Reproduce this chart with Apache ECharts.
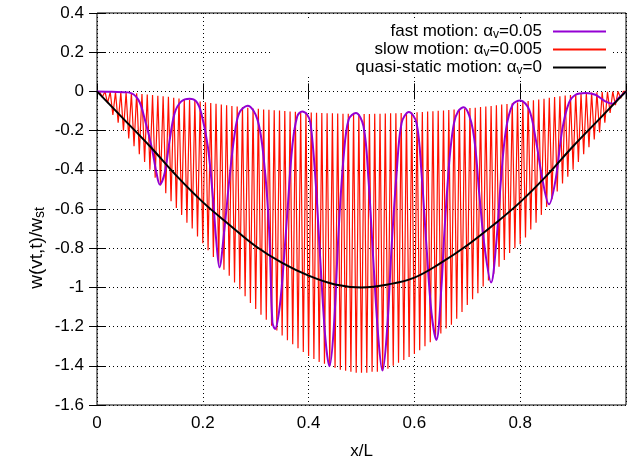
<!DOCTYPE html>
<html><head><meta charset="utf-8">
<script src="https://cdn.jsdelivr.net/npm/echarts@6.0.0/dist/echarts.min.js"></script>
<style>html,body{margin:0;padding:0;background:#fff}#c{width:629px;height:465px}</style>
</head><body><div id="c"></div>
<script>
// ---- data ----
const xTickValues = [0, 0.2, 0.4, 0.6, 0.8];
const yTickValues = [0.4, 0.2, 0, -0.2, -0.4, -0.6, -0.8, -1, -1.2, -1.4, -1.6];

const seriesNames = ['fast motion: α{s|v}=0.05', 'slow motion: α{s|v}=0.005', 'quasi-static motion: α{s|v}=0'];
const xTitle = 'x/L';
const yTitle = '{n|w(vt,t)/w}{s|st}';

// quasi-static motion (alpha_v = 0)
const staticX = [0, 0.05, 0.1, 0.15, 0.2, 0.25, 0.3, 0.35, 0.4, 0.45, 0.5, 0.55, 0.6, 0.65, 0.7, 0.75, 0.8, 0.85, 0.9, 0.95, 1];
const staticY = [0, -0.14, -0.28, -0.43, -0.565, -0.68, -0.79, -0.875, -0.94, -0.985, -1.0, -0.985, -0.95, -0.875, -0.785, -0.68, -0.565, -0.43, -0.28, -0.14, 0];

// fast motion (alpha_v = 0.05)
const fastX = [0, 0.028, 0.059, 0.078, 0.0905, 0.103, 0.1124, 0.1187, 0.1281, 0.1375, 0.1469, 0.1594, 0.175, 0.1876, 0.197, 0.2095, 0.2189, 0.2252, 0.2314, 0.2408, 0.2502, 0.2596, 0.269, 0.2847, 0.3034, 0.316, 0.3253, 0.3316, 0.3366, 0.344, 0.3504, 0.3598, 0.3692, 0.3786, 0.388, 0.3974, 0.4036, 0.413, 0.4224, 0.4318, 0.4394, 0.4475, 0.4569, 0.4663, 0.4757, 0.4894, 0.5038, 0.5132, 0.5226, 0.532, 0.5395, 0.5476, 0.557, 0.5664, 0.5758, 0.5896, 0.604, 0.6134, 0.6228, 0.6322, 0.6416, 0.651, 0.656, 0.662, 0.668, 0.675, 0.683, 0.693, 0.7105, 0.723, 0.7324, 0.745, 0.7543, 0.7637, 0.7731, 0.7856, 0.80, 0.8169, 0.8295, 0.842, 0.8545, 0.867, 0.8795, 0.8921, 0.9046, 0.9234, 0.9422, 0.9609, 0.9747, 0.986, 1.0];
const fastY = [0, -0.002, -0.005, -0.042, -0.144, -0.28, -0.415, -0.475, -0.415, -0.246, -0.11, -0.051, -0.037, -0.051, -0.11, -0.28, -0.534, -0.754, -0.898, -0.703, -0.449, -0.229, -0.11, -0.073, -0.144, -0.364, -0.703, -1.178, -1.212, -1.127, -0.958, -0.619, -0.28, -0.127, -0.102, -0.119, -0.161, -0.449, -0.873, -1.263, -1.402, -1.212, -0.703, -0.331, -0.144, -0.11, -0.178, -0.449, -0.873, -1.263, -1.424, -1.246, -0.788, -0.415, -0.161, -0.105, -0.161, -0.415, -0.788, -1.127, -1.268, -1.0, -0.75, -0.5, -0.3, -0.16, -0.1, -0.081, -0.195, -0.534, -0.788, -0.975, -0.788, -0.449, -0.195, -0.068, -0.046, -0.093, -0.246, -0.449, -0.576, -0.449, -0.195, -0.059, -0.017, -0.008, -0.017, -0.051, -0.063, -0.034, 0];

// slow motion (alpha_v = 0.005): one crest and one trough per oscillation, oscillation length in x
const slowStep = 0.01;
const slowCrests = [-0.002, 0.0, -0.003, -0.004, -0.005, -0.006, -0.008, -0.01, -0.013, -0.016,
  -0.019, -0.022, -0.025, -0.028, -0.032, -0.036, -0.04, -0.043, -0.047, -0.051,
  -0.055, -0.059, -0.063, -0.067, -0.071, -0.074, -0.077, -0.081, -0.084, -0.087,
  -0.089, -0.092, -0.094, -0.096, -0.098, -0.1, -0.102, -0.104, -0.105, -0.107,
  -0.108, -0.109, -0.11, -0.111, -0.112, -0.113, -0.114, -0.114, -0.115, -0.115,
  -0.115, -0.115, -0.114, -0.114, -0.113, -0.112, -0.111, -0.11, -0.109, -0.108,
  -0.106, -0.105, -0.103, -0.101, -0.099, -0.097, -0.095, -0.093, -0.09, -0.088,
  -0.085, -0.083, -0.08, -0.077, -0.074, -0.071, -0.067, -0.064, -0.06, -0.057,
  -0.053, -0.049, -0.045, -0.041, -0.037, -0.033, -0.029, -0.025, -0.021, -0.018,
  -0.014, -0.011, -0.008, -0.006, -0.004, -0.003, -0.002, -0.001, 0.0, 0.0];
const slowTroughs = [-0.03, -0.06, -0.12, -0.16, -0.2, -0.24, -0.28, -0.32, -0.36, -0.4,
  -0.44, -0.48, -0.52, -0.56, -0.595, -0.63, -0.67, -0.7, -0.74, -0.775,
  -0.81, -0.845, -0.88, -0.91, -0.94, -0.975, -1.01, -1.045, -1.08, -1.11,
  -1.14, -1.165, -1.195, -1.22, -1.245, -1.27, -1.29, -1.31, -1.33, -1.35,
  -1.365, -1.38, -1.39, -1.4, -1.41, -1.42, -1.425, -1.43, -1.435, -1.435,
  -1.435, -1.43, -1.43, -1.425, -1.415, -1.4, -1.385, -1.37, -1.355, -1.34,
  -1.32, -1.3, -1.28, -1.26, -1.235, -1.21, -1.19, -1.16, -1.125, -1.09,
  -1.06, -1.03, -0.995, -0.965, -0.93, -0.895, -0.86, -0.825, -0.8, -0.78,
  -0.745, -0.705, -0.67, -0.63, -0.59, -0.55, -0.51, -0.47, -0.435, -0.4,
  -0.36, -0.32, -0.285, -0.245, -0.21, -0.16, -0.11, -0.07, -0.035];

// ---- build series data ----
const zip = (xs, ys) => xs.map((x, i) => [x, ys[i]]);
const slowData = [[0, 0]];
for (let k = 0; k < slowCrests.length; k++) {
  slowData.push([(k + 0.5) * slowStep, slowCrests[k]]);
  if (k < slowTroughs.length) slowData.push([(k + 1) * slowStep, slowTroughs[k]]);
}
slowData.push([1, 0]);

const FONT = 'Liberation Sans, Arial, sans-serif';
const rich = {
  n: { fontSize: 17, fontFamily: FONT, color: '#000', lineHeight: 19 },
  s: { fontSize: 12, fontFamily: FONT, color: '#000', lineHeight: 12, verticalAlign: 'bottom' },
  g: { width: 6 }
};
const richY = {
  n: { fontSize: 19, fontFamily: FONT, color: '#000', lineHeight: 21 },
  s: { fontSize: 14, fontFamily: FONT, color: '#000', lineHeight: 14, verticalAlign: 'bottom' }
};
const gridLine = { show: true, lineStyle: { color: '#000', type: [1, 3], width: 1 } };
const tickIn = { show: true, inside: true, length: 8, lineStyle: { color: '#000', width: 1 } };

const chart = echarts.init(document.getElementById('c'), null, { renderer: 'canvas' });
chart.setOption({
  animation: false,
  backgroundColor: '#fff',
  textStyle: { fontFamily: FONT },
  grid: { left: 97, right: 0, top: 13, bottom: 59, show: true, borderColor: '#000', borderWidth: 1, backgroundColor: 'transparent' },
  graphic: [
    // opaque key box (hides the grid behind the key, like the original)
    { type: 'rect', silent: true, z: 1, shape: { x: 272, y: 21, width: 340, height: 56 }, style: { fill: '#fff' } },
    { type: 'text', silent: true, z: 5, x: 37, y: 248, rotation: Math.PI / 2,
      style: { text: yTitle, rich: richY, align: 'center', verticalAlign: 'middle', fill: '#000' } }
  ],
  legend: {
    data: [seriesNames[0], seriesNames[1], seriesNames[2]],
    orient: 'vertical', align: 'right', right: 17, top: 18,
    itemWidth: 53, itemHeight: 14, itemGap: 0,
    itemStyle: { opacity: 0 },
    formatter: n => '{n|' + n.replace(/\{s\|v\}/, '}{s|v}{n|') + '}{g|}',
    textStyle: { fontSize: 17, color: '#000', rich: rich },
    selectedMode: false, z: 6
  },
  xAxis: [
    { type: 'value', min: 0, max: 1, interval: 0.2, position: 'bottom',
      axisLine: { show: false }, axisTick: tickIn, splitLine: gridLine,
      axisLabel: { fontSize: 17, color: '#000', margin: 10, fontFamily: FONT,
        formatter: v => (xTickValues.includes(+v.toFixed(1)) ? String(+v.toFixed(1)) : '') },
      name: xTitle, nameLocation: 'middle', nameGap: 38,
      nameTextStyle: { fontSize: 17, color: '#000', fontFamily: FONT } },
    { type: 'value', min: 0, max: 1, interval: 0.2, position: 'top',
      axisLine: { show: false }, axisTick: tickIn, splitLine: { show: false }, axisLabel: { show: false } }
  ],
  yAxis: [
    { type: 'value', min: -1.6, max: 0.4, interval: 0.2, position: 'left',
      axisLine: { show: false }, axisTick: tickIn, splitLine: gridLine,
      axisLabel: { fontSize: 17, color: '#000', margin: 13, fontFamily: FONT,
        formatter: v => String(+v.toFixed(1)) } },
    { type: 'value', min: -1.6, max: 0.4, interval: 0.2, position: 'right',
      axisLine: { show: false }, axisTick: tickIn, splitLine: { show: false }, axisLabel: { show: false } }
  ],
  series: [
    { name: seriesNames[1], type: 'line', data: slowData, showSymbol: false, symbol: 'none',
      lineStyle: { color: '#ff1000', width: 1.2 }, itemStyle: { color: '#ff1000' }, z: 2, clip: true },
    { name: seriesNames[0], type: 'line', data: zip(fastX, fastY), showSymbol: false, symbol: 'none', smooth: 0.35,
      lineStyle: { color: '#9400d3', width: 2 }, itemStyle: { color: '#9400d3' }, z: 3, clip: true },
    { name: seriesNames[2], type: 'line', data: zip(staticX, staticY), showSymbol: false, symbol: 'none', smooth: 0.4,
      lineStyle: { color: '#000', width: 2 }, itemStyle: { color: '#000' }, z: 4, clip: true }
  ]
});
</script>
</body></html>
